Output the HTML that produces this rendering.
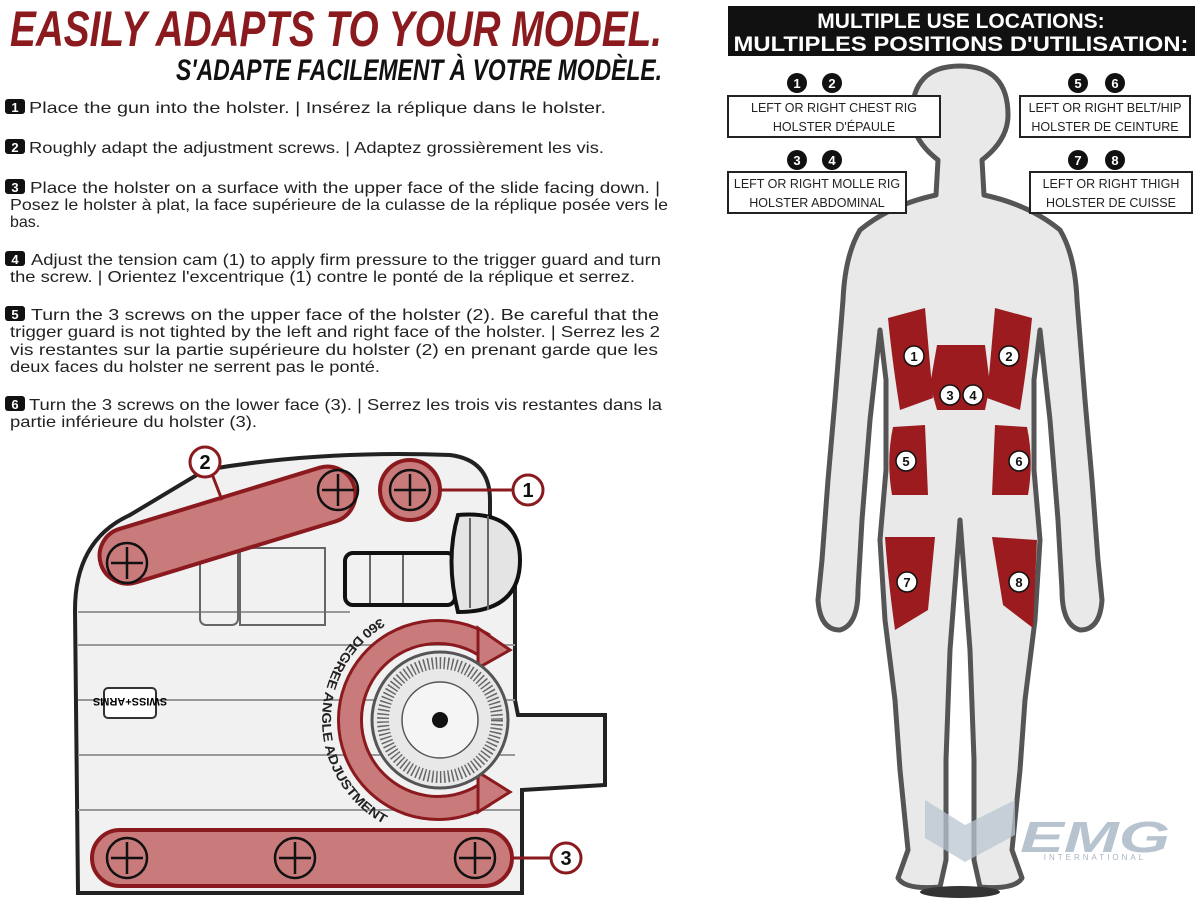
<!DOCTYPE html>
<html><head><meta charset="utf-8"><style>
html,body{margin:0;padding:0;background:#fff;}
svg{display:block;font-family:"Liberation Sans",sans-serif;}
</style></head><body>
<svg width="1200" height="900" viewBox="0 0 1200 900" xmlns="http://www.w3.org/2000/svg">
<!-- Titles -->
<text x="10" y="46" font-size="50" font-weight="bold" font-style="italic" fill="#8b1a1f" textLength="652" lengthAdjust="spacingAndGlyphs">EASILY ADAPTS TO YOUR MODEL.</text>
<text x="176" y="80" font-size="30" font-weight="bold" font-style="italic" fill="#111" textLength="486" lengthAdjust="spacingAndGlyphs">S'ADAPTE FACILEMENT À VOTRE MODÈLE.</text>

<!-- Instructions -->
<g font-size="16" fill="#222">
<rect x="5" y="99" width="20" height="15" rx="3" fill="#111"/><text x="15" y="112" font-size="13" font-weight="bold" fill="#fff" text-anchor="middle">1</text>
<text x="29" y="113" textLength="577" lengthAdjust="spacingAndGlyphs">Place the gun into the holster. | Insérez la réplique dans le holster.</text>
<rect x="5" y="139" width="20" height="15" rx="3" fill="#111"/><text x="15" y="152" font-size="13" font-weight="bold" fill="#fff" text-anchor="middle">2</text>
<text x="29" y="153" textLength="575" lengthAdjust="spacingAndGlyphs">Roughly adapt the adjustment screws. | Adaptez grossièrement les vis.</text>
<rect x="5" y="179" width="20" height="15" rx="3" fill="#111"/><text x="15" y="192" font-size="13" font-weight="bold" fill="#fff" text-anchor="middle">3</text>
<text x="30" y="193" textLength="630" lengthAdjust="spacingAndGlyphs">Place the holster on a surface with the upper face of the slide facing down. |</text>
<text x="10" y="210" textLength="658" lengthAdjust="spacingAndGlyphs">Posez le holster à plat, la face supérieure de la culasse de la réplique posée vers le</text>
<text x="10" y="227">bas.</text>
<rect x="5" y="251" width="20" height="15" rx="3" fill="#111"/><text x="15" y="264" font-size="13" font-weight="bold" fill="#fff" text-anchor="middle">4</text>
<text x="31" y="265" textLength="630" lengthAdjust="spacingAndGlyphs">Adjust the tension cam (1) to apply firm pressure to the trigger guard and turn</text>
<text x="10" y="282" textLength="625" lengthAdjust="spacingAndGlyphs">the screw. | Orientez l'excentrique (1) contre le ponté de la réplique et serrez.</text>
<rect x="5" y="306" width="20" height="15" rx="3" fill="#111"/><text x="15" y="319" font-size="13" font-weight="bold" fill="#fff" text-anchor="middle">5</text>
<text x="31" y="320" textLength="628" lengthAdjust="spacingAndGlyphs">Turn the 3 screws on the upper face of the holster (2). Be careful that the</text>
<text x="10" y="337" textLength="650" lengthAdjust="spacingAndGlyphs">trigger guard is not tighted by the left and right face of the holster. | Serrez les 2</text>
<text x="10" y="355" textLength="648" lengthAdjust="spacingAndGlyphs">vis restantes sur la partie supérieure du holster (2) en prenant garde que les</text>
<text x="10" y="372" textLength="370" lengthAdjust="spacingAndGlyphs">deux faces du holster ne serrent pas le ponté.</text>
<rect x="5" y="396" width="20" height="15" rx="3" fill="#111"/><text x="15" y="409" font-size="13" font-weight="bold" fill="#fff" text-anchor="middle">6</text>
<text x="29" y="410" textLength="633" lengthAdjust="spacingAndGlyphs">Turn the 3 screws on the lower face (3). | Serrez les trois vis restantes  dans la</text>
<text x="10" y="427" textLength="247" lengthAdjust="spacingAndGlyphs">partie inférieure du holster (3).</text>
</g>

<!-- Holster -->
<path d="M205 470 Q320 450 450 455 Q490 460 490 500 L490 525 Q515 530 515 560 L515 700 L518 715 L605 715 L605 785 L522 790 L522 893 L78 893 L75 610 Q75 540 130 515 Z" fill="#f1f1f1" stroke="#222" stroke-width="4"/>
<g stroke="#999" stroke-width="2" fill="none">
<line x1="78" y1="612" x2="350" y2="612"/><line x1="78" y1="645" x2="515" y2="645"/><line x1="78" y1="700" x2="515" y2="700"/><line x1="78" y1="755" x2="515" y2="755"/><line x1="78" y1="810" x2="520" y2="810"/>
<rect x="200" y="538" width="38" height="87" rx="6" stroke="#666"/><rect x="240" y="548" width="85" height="77" stroke="#666"/>
</g>
<rect x="345" y="553" width="110" height="52" rx="8" fill="#f1f1f1" stroke="#111" stroke-width="4"/>
<line x1="370" y1="555" x2="370" y2="603" stroke="#666" stroke-width="2"/><line x1="403" y1="555" x2="403" y2="603" stroke="#666" stroke-width="2"/>
<path d="M458 515 Q520 510 520 560 Q520 612 458 612 Q445 560 458 515 Z" fill="#e4e4e4" stroke="#111" stroke-width="4"/>
<line x1="470" y1="518" x2="470" y2="608" stroke="#666" stroke-width="2"/><line x1="488" y1="516" x2="488" y2="610" stroke="#666" stroke-width="2"/>
<rect x="104" y="688" width="52" height="30" rx="4" fill="#fff" stroke="#333" stroke-width="2"/>
<text x="130" y="708" font-size="11" font-weight="bold" text-anchor="middle" transform="rotate(180 130 703)">SWISS+ARMS</text>
<!-- dial red arc -->
<path d="M484 645 A88 88 0 1 0 484 795" fill="none" stroke="#8b1a1f" stroke-width="26"/>
<path d="M484 645 A88 88 0 1 0 484 795" fill="none" stroke="#c97a7a" stroke-width="20"/>
<polygon points="478,628 510,650 478,668" fill="#c97a7a" stroke="#8b1a1f" stroke-width="3"/>
<polygon points="478,772 510,792 478,812" fill="#c97a7a" stroke="#8b1a1f" stroke-width="3"/>
<circle cx="440" cy="720" r="68" fill="#e8e8e8" stroke="#555" stroke-width="3"/>
<circle cx="440" cy="720" r="57" fill="none" stroke="#666" stroke-width="12" stroke-dasharray="1.5 2.5"/>
<circle cx="440" cy="720" r="38" fill="#f5f5f5" stroke="#555" stroke-width="1.5"/>
<circle cx="440" cy="720" r="8" fill="#111"/>
<path id="arc" d="M381 618 A118 118 0 0 0 390 827" fill="none"/>
<text font-size="13" font-weight="bold" fill="#222"><textPath href="#arc" startOffset="0" textLength="250" lengthAdjust="spacingAndGlyphs">360 DEGREE ANGLE ADJUSTMENT</textPath></text>
<!-- red bands -->
<g transform="rotate(-17 228 525)"><rect x="95" y="497" width="265" height="56" rx="28" fill="#c97a7a" stroke="#8b1a1f" stroke-width="4"/></g>
<rect x="92" y="830" width="420" height="56" rx="28" fill="#c97a7a" stroke="#8b1a1f" stroke-width="4"/>
<circle cx="410" cy="490" r="30" fill="#c97a7a" stroke="#8b1a1f" stroke-width="4"/>
<g fill="none" stroke="#111" stroke-width="2.5">
<circle cx="127" cy="563" r="20"/><path d="M127 547v32M111 563h32"/>
<circle cx="338" cy="490" r="20"/><path d="M338 474v32M322 490h32"/>
<circle cx="410" cy="490" r="20"/><path d="M410 474v32M394 490h32"/>
<circle cx="127" cy="858" r="20"/><path d="M127 842v32M111 858h32"/>
<circle cx="295" cy="858" r="20"/><path d="M295 842v32M279 858h32"/>
<circle cx="475" cy="858" r="20"/><path d="M475 842v32M459 858h32"/>
</g>
<g stroke="#8b1a1f" stroke-width="3" fill="#fff">
<line x1="212" y1="474" x2="222" y2="500"/><line x1="440" y1="490" x2="512" y2="490"/><line x1="510" y1="858" x2="550" y2="858"/>
<circle cx="205" cy="462" r="15"/><circle cx="528" cy="490" r="15"/><circle cx="566" cy="858" r="15"/>
</g>
<g font-size="20" font-weight="bold" text-anchor="middle" fill="#111">
<text x="205" y="469">2</text><text x="528" y="497">1</text><text x="566" y="865">3</text></g>

<!-- Right banner -->
<rect x="728" y="6" width="467" height="50" fill="#111"/>
<g fill="#fff" font-size="21" font-weight="bold" text-anchor="middle">
<text x="961" y="28">MULTIPLE USE LOCATIONS:</text>
<text x="961" y="51" textLength="455" lengthAdjust="spacingAndGlyphs">MULTIPLES POSITIONS D'UTILISATION:</text></g>

<!-- Body -->
<path d="M938 160 L936 195 Q890 205 860 230 Q845 255 843 300 L835 400 L828 480 L822 560 L818 600 Q820 630 840 630 Q858 625 858 590 L862 520 L870 420 L880 330 L886 380 L886 470 L880 540 L885 620 L895 700 L900 770 L908 850 L898 878 Q905 890 940 887 L946 860 L946 760 L950 650 L960 520 L970 650 L974 760 L974 860 L980 887 Q1015 890 1022 878 L1012 850 L1020 770 L1025 700 L1035 620 L1040 540 L1034 470 L1034 380 L1040 330 L1050 420 L1058 520 L1062 590 Q1062 625 1080 630 Q1100 630 1102 600 L1098 560 L1092 480 L1085 400 L1077 300 Q1075 255 1060 230 Q1030 205 984 195 L982 160 Q1008 140 1008 115 Q1008 66 960 66 Q912 66 912 115 Q912 140 938 160 Z" fill="#e9e9e9" stroke="#555" stroke-width="5" stroke-linejoin="round"/>
<ellipse cx="960" cy="892" rx="40" ry="6" fill="#333"/>
<!-- red zones -->
<g fill="#9b1b1f">
<path d="M888 318 L925 308 L933 398 L900 410 Q892 360 888 318 Z"/>
<path d="M1032 318 L995 308 L987 398 L1020 410 Q1028 360 1032 318 Z"/>
<path d="M937 345 L985 345 L990 385 L985 410 L937 410 L930 385 Z"/>
<path d="M893 427 L925 425 L928 495 L892 495 Q886 460 893 427 Z"/>
<path d="M1027 427 L995 425 L992 495 L1028 495 Q1034 460 1027 427 Z"/>
<path d="M885 537 L935 537 L928 610 L895 630 Q888 580 885 537 Z"/>
<path d="M992 537 L1037 540 L1033 628 L1003 605 Z"/>
</g>
<g fill="#fff" stroke="#111" stroke-width="1.5"><circle cx="914" cy="356" r="10"/><circle cx="1009" cy="356" r="10"/><circle cx="950" cy="395" r="10"/><circle cx="973" cy="395" r="10"/><circle cx="906" cy="461" r="10"/><circle cx="1019" cy="461" r="10"/><circle cx="907" cy="582" r="10"/><circle cx="1019" cy="582" r="10"/></g>
<g font-size="13" font-weight="bold" text-anchor="middle" fill="#111">
<text x="914" y="361">1</text><text x="1009" y="361">2</text><text x="950" y="400">3</text><text x="973" y="400">4</text><text x="906" y="466">5</text><text x="1019" y="466">6</text><text x="907" y="587">7</text><text x="1019" y="587">8</text></g>

<!-- Labels -->
<g fill="#fff" stroke="#222" stroke-width="2">
<rect x="728" y="96" width="212" height="41"/><rect x="728" y="172" width="178" height="41"/>
<rect x="1020" y="96" width="170" height="41"/><rect x="1030" y="172" width="162" height="41"/></g>
<g fill="#111"><circle cx="797" cy="83" r="10"/><circle cx="832" cy="83" r="10"/><circle cx="797" cy="160" r="10"/><circle cx="832" cy="160" r="10"/><circle cx="1078" cy="83" r="10"/><circle cx="1115" cy="83" r="10"/><circle cx="1078" cy="160" r="10"/><circle cx="1115" cy="160" r="10"/></g>
<g fill="#fff" font-size="13" font-weight="bold" text-anchor="middle">
<text x="797" y="88">1</text><text x="832" y="88">2</text><text x="797" y="165">3</text><text x="832" y="165">4</text><text x="1078" y="88">5</text><text x="1115" y="88">6</text><text x="1078" y="165">7</text><text x="1115" y="165">8</text></g>
<g font-size="12.5" fill="#222" text-anchor="middle">
<text x="834" y="112">LEFT OR RIGHT CHEST RIG</text><text x="834" y="131">HOLSTER D'ÉPAULE</text>
<text x="817" y="188">LEFT OR RIGHT MOLLE RIG</text><text x="817" y="207">HOLSTER ABDOMINAL</text>
<text x="1105" y="112">LEFT OR RIGHT BELT/HIP</text><text x="1105" y="131">HOLSTER DE CEINTURE</text>
<text x="1111" y="188">LEFT OR RIGHT THIGH</text><text x="1111" y="207">HOLSTER DE CUISSE</text></g>

<!-- EMG logo -->
<g opacity="0.75">
<path d="M925 800 L965 825 L1015 800 L1015 835 L965 862 L925 838 Z" fill="#b9c6d2"/>
<text x="1095" y="852" font-size="44" font-weight="bold" font-style="italic" fill="#9fb0c0" text-anchor="middle" textLength="150" lengthAdjust="spacingAndGlyphs">EMG</text>
<text x="1095" y="860" font-size="8" fill="#8a9aaa" text-anchor="middle" letter-spacing="3">INTERNATIONAL</text>
</g>
</svg>
</body></html>
